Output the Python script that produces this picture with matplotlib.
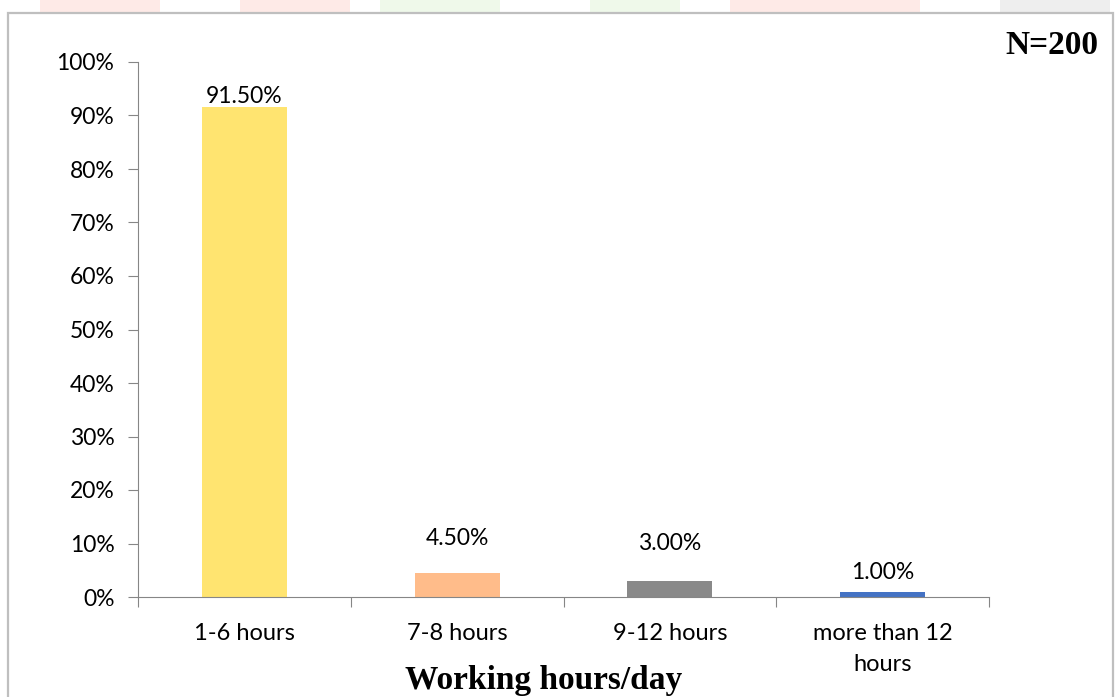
import matplotlib.pyplot as plt
from matplotlib.patches import Rectangle

categories = ["1-6 hours", "7-8 hours", "9-12 hours", "more than 12\nhours"]
values = [91.5, 4.5, 3.0, 1.0]
labels = ["91.50%", "4.50%", "3.00%", "1.00%"]
colors = ["#FFE470", "#FFBC8A", "#898989", "#4472C4"]
label_offsets = [8, 25, 27, 14]  # points above bar top (labels were dragged in the original)

W, H = 1118, 697
fig = plt.figure(figsize=(W / 100, H / 100), dpi=100)

# faint watermark pieces above the chart frame
wm = [(40, 160, "#FEEAE7"), (240, 350, "#FEEAE7"), (380, 500, "#EFF9EA"),
      (590, 680, "#EFF9EA"), (730, 920, "#FEEAE7"), (1000, 1110, "#EEEEEE")]
for x0, x1, c in wm:
    fig.add_artist(Rectangle((x0 / W, 1 - 12 / H), (x1 - x0) / W, 12 / H,
                             transform=fig.transFigure, color=c, lw=0, zorder=0))

# chart frame
fig.add_artist(Rectangle((8 / W, -0.01), (1113 - 8) / W, 1 - 13 / H + 0.01,
                         transform=fig.transFigure, fill=False, ec="#BFBFBF", lw=1.6))

ax = fig.add_axes([138 / W, 1 - 597 / H, (989 - 138) / W, (597 - 62) / H])
x = range(len(categories))
bars = ax.bar(x, values, width=0.4, color=colors, zorder=2)

for b, lab, off in zip(bars, labels, label_offsets):
    ax.annotate(lab, (b.get_x() + b.get_width() / 2, b.get_height()),
                xytext=(0, off), textcoords="offset points",
                ha="center", va="center", fontsize=16.5, family="Lato")

ax.set_xlim(-0.5, len(categories) - 0.5)
ax.set_ylim(0, 100)
ax.set_yticks(range(0, 101, 10))
ax.set_yticklabels([f"{v}%" for v in range(0, 101, 10)], fontsize=16.5, family="Lato")
ax.set_xticks([i - 0.5 for i in range(len(categories) + 1)], minor=False)
ax.set_xticklabels([])
ax.set_xticks(list(x), minor=True)
ax.set_xticklabels(categories, minor=True, fontsize=17, family="Lato", linespacing=1.55)
ax.tick_params(axis="x", which="minor", length=0, pad=19)
ax.tick_params(axis="x", which="major", length=7, color="#868686")
ax.tick_params(axis="y", length=7, color="#868686", pad=10)

for s in ["top", "right"]:
    ax.spines[s].set_visible(False)
for s in ["left", "bottom"]:
    ax.spines[s].set_color("#868686")

fig.text(544 / W, 1 - 681 / H, "Working hours/day", ha="center", va="center",
         fontsize=24, fontweight="bold", family="Liberation Serif")
fig.text(1098 / W, 1 - 45 / H, "N=200", ha="right", va="center",
         fontsize=24, fontweight="bold", family="Liberation Serif")

fig.savefig("out.png", dpi=100)
